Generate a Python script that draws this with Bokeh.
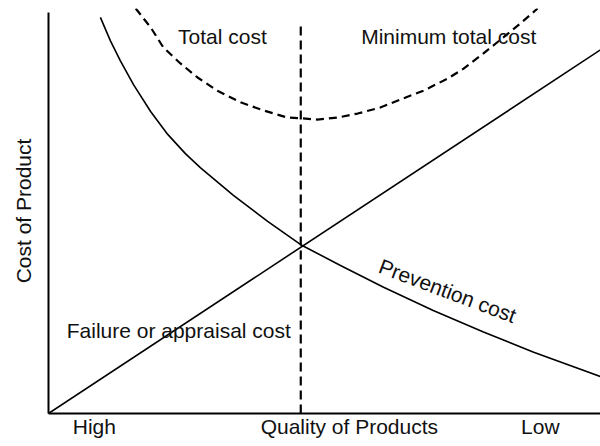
from bokeh.plotting import figure
from bokeh.models import Range1d, FixedTicker, ColumnDataSource
from bokeh.core.properties import value
from bokeh.embed import file_html
from bokeh.resources import INLINE

FONT = "Liberation Sans"

# Quality axis (0 = High quality, 100 = Low quality), cost axis 0..100
tick_positions = [8.3, 54.5, 89.1]
tick_labels = ["High", "Quality of Products", "Low"]

# Failure or appraisal cost (straight line)
failure_x = [0.0, 100.0]
failure_y = [0.0, 90.7]

# Prevention cost (decreasing curve)
prev_x = [9.4, 11.2, 13.0, 15.4, 18.5, 21.6, 24.8, 27.5, 33.5, 39.7, 45.7,
          52.9, 60.7, 69.7, 78.8, 87.9, 100.0]
prev_y = [98.8, 93.0, 88.0, 82.0, 75.3, 69.6, 64.8, 61.3, 54.4, 47.9, 42.1,
          36.9, 31.5, 25.7, 20.3, 15.3, 9.2]

# Total cost (dashed U-shaped curve)
total_x = [15.8, 18.5, 20.8, 23.9, 27.0, 30.6, 34.8, 38.9, 43.3, 46.0, 48.7,
           52.4, 56.0, 60.1, 64.3, 67.9, 72.3, 75.2, 78.8, 82.4, 85.5, 88.6]
total_y = [101.0, 96.3, 91.3, 87.3, 83.8, 80.5, 77.6, 75.6, 73.8, 73.6, 73.3,
           73.8, 74.8, 76.3, 78.6, 80.5, 83.5, 86.0, 89.8, 93.8, 97.3, 101.0]

# Minimum total cost marker (vertical dashed line)
min_x = [45.7, 45.7]
min_y = [0.0, 96.8]

# Annotation labels
label_text = ["Total cost", "Minimum total cost", "Failure or appraisal cost"]
label_x = [31.5, 72.5, 23.6]
label_y = [94.0, 94.0, 20.7]

prev_label = ["Prevention cost"]
prev_label_x = [72.3]
prev_label_y = [30.6]
prev_label_angle = [-0.36]

p = figure(width=600, height=446, output_backend="svg", toolbar_location=None,
           x_range=Range1d(0, 100), y_range=Range1d(0, 101),
           min_border_left=48, min_border_right=0, min_border_top=8,
           min_border_bottom=33)
p.outline_line_color = None
p.background_fill_color = "white"
p.border_fill_color = "white"
p.xgrid.visible = False
p.ygrid.visible = False

# x axis
p.xaxis.ticker = FixedTicker(ticks=tick_positions)
p.xaxis.major_label_overrides = {t: l for t, l in zip(tick_positions, tick_labels)}
p.xaxis.major_tick_line_color = None
p.xaxis.minor_tick_line_color = None
p.xaxis.major_tick_out = 0
p.xaxis.major_tick_in = 0
p.xaxis.axis_line_width = 2
p.xaxis.axis_line_color = "black"
p.xaxis.major_label_text_font = FONT
p.xaxis.major_label_text_font_size = "21px"
p.xaxis.major_label_text_color = "#111111"
p.xaxis.major_label_standoff = 1

# y axis
p.yaxis.bounds = (0, 100)
p.yaxis.ticker = FixedTicker(ticks=[])
p.yaxis.major_tick_line_color = None
p.yaxis.minor_tick_line_color = None
p.yaxis.major_label_text_font_size = "0px"
p.yaxis.axis_line_width = 2
p.yaxis.axis_line_color = "black"
p.yaxis.axis_label = "Cost of Product"
p.yaxis.axis_label_text_font = FONT
p.yaxis.axis_label_text_font_size = "21px"
p.yaxis.axis_label_text_font_style = "normal"
p.yaxis.axis_label_text_color = "#111111"
p.yaxis.axis_label_standoff = 14

p.line(failure_x, failure_y, line_color="black", line_width=1.6)
p.line(prev_x, prev_y, line_color="black", line_width=1.6)
p.line(total_x, total_y, line_color="black", line_width=2.2, line_dash="8 5")
p.line(min_x, min_y, line_color="black", line_width=2.2, line_dash="9 5")

src = ColumnDataSource(dict(x=label_x, y=label_y, t=label_text))
p.text(x="x", y="y", text="t", source=src, text_font=value(FONT),
       text_font_size="21px", text_align="center", text_baseline="middle",
       text_color="#111111")

src2 = ColumnDataSource(dict(x=prev_label_x, y=prev_label_y, t=prev_label,
                             a=prev_label_angle))
p.text(x="x", y="y", text="t", angle="a", source=src2, text_font=value(FONT),
       text_font_size="21px", text_align="center", text_baseline="middle",
       text_color="#111111")

open("out.html", "w").write(file_html(p, INLINE))
